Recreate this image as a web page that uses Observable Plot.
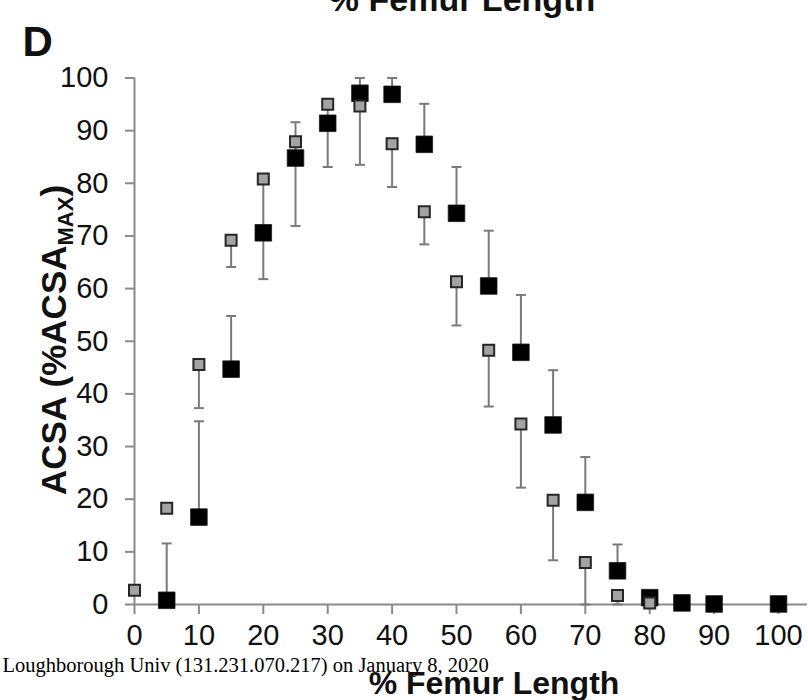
<!DOCTYPE html>
<html>
<head>
<meta charset="utf-8">
<script src="https://cdn.jsdelivr.net/npm/d3@7"></script>
<script src="https://cdn.jsdelivr.net/npm/@observablehq/plot@0.6"></script>
<style>
  body { margin: 0; background: #fff; }
  #chart svg { display: block; }
</style>
</head>
<body>
<div id="chart"></div>
<script>
// Axis ticks
const xTicks = [0, 10, 20, 30, 40, 50, 60, 70, 80, 90, 100];
const yTicks = [0, 10, 20, 30, 40, 50, 60, 70, 80, 90, 100];

// Grey series: position along femur (%), mean ACSA (%max), lower end of error bar
const grayX    = [0, 5, 10, 15, 20, 25, 30, 35, 40, 45, 50, 55, 60, 65, 70, 75, 80];
const grayMean = [2.7, 18.3, 45.6, 69.2, 80.8, 87.9, 95.0, 94.7, 87.5, 74.6, 61.3, 48.3, 34.3, 19.8, 8.0, 1.7, 0.3];
const grayLow  = [null, null, 37.3, 64.1, 61.8, 71.9, 83.1, 83.5, 79.3, 68.4, 53.0, 37.6, 22.2, 8.4, 0, 0, null];

// Black series: position along femur (%), mean ACSA (%max), upper end of error bar
const blackX    = [5, 10, 15, 20, 25, 30, 35, 40, 45, 50, 55, 60, 65, 70, 75, 80, 85, 90, 100];
const blackMean = [0.8, 16.6, 44.7, 70.6, 84.8, 91.4, 97.1, 96.9, 87.4, 74.3, 60.5, 47.9, 34.1, 19.4, 6.4, 1.3, 0.3, 0.1, 0.1];
const blackHigh = [11.6, 34.8, 54.8, null, 91.6, null, 100, 100, 95.1, 83.1, 71.0, 58.8, 44.5, 28.0, 11.4, null, null, null, null];

const gray = grayX.map((x, i) => ({x, y: grayMean[i], e: grayLow[i]}));
const black = blackX.map((x, i) => ({x, y: blackMean[i], e: blackHigh[i]}));
const grayErr = gray.filter(d => d.e != null);
const blackErr = black.filter(d => d.e != null);

// Square whose side is 2r, and a horizontal cap of width 2r
const box = {draw(ctx, size) { const h = Math.sqrt(size / Math.PI); ctx.rect(-h, -h, 2 * h, 2 * h); }};
const cap = {draw(ctx, size) { const h = Math.sqrt(size / Math.PI); ctx.moveTo(-h, 0); ctx.lineTo(h, 0); }};

const axisGray = "#8a8a8a";
const errGray = "#7a7a7a";
const sans = "'Liberation Sans', Arial, Helvetica, sans-serif";

const chart = Plot.plot({
  width: 808,
  height: 700,
  marginLeft: 134,
  marginRight: 1,
  marginTop: 77.5,
  marginBottom: 96,
  style: {fontFamily: sans, background: "#fff", color: "#111", overflow: "visible"},
  x: {domain: [0, 104.5]},
  y: {domain: [0, 100]},
  marks: [
    Plot.axisX(xTicks, {tickSize: 10, tickPadding: 10, fontSize: 29, stroke: axisGray, strokeWidth: 2, fill: "#111", label: null}),
    Plot.axisY(yTicks, {tickSize: 9, tickPadding: 17, fontSize: 29, stroke: axisGray, strokeWidth: 2, fill: "#111", label: null}),
    Plot.ruleY([0], {stroke: axisGray, strokeWidth: 2}),
    Plot.ruleX([0], {y1: 0, y2: 100, stroke: axisGray, strokeWidth: 2}),

    // error bars
    Plot.ruleX(grayErr, {x: "x", y1: "y", y2: "e", stroke: errGray, strokeWidth: 2}),
    Plot.dot(grayErr, {x: "x", y: "e", symbol: cap, r: 5, fill: "none", stroke: errGray, strokeWidth: 2}),
    Plot.ruleX(blackErr, {x: "x", y1: "y", y2: "e", stroke: errGray, strokeWidth: 2}),
    Plot.dot(blackErr, {x: "x", y: "e", symbol: cap, r: 5, fill: "none", stroke: errGray, strokeWidth: 2}),

    // means
    Plot.dot(black, {x: "x", y: "y", symbol: box, r: 8.3, fill: "#000", stroke: "#1a1a1a", strokeWidth: 0.8}),
    Plot.dot(gray, {x: "x", y: "y", symbol: box, r: 5.5, fill: "#a3a3a3", stroke: "#262626", strokeWidth: 2}),

    // panel letter, title of the panel above, axis title, source line
    Plot.text(["D"], {text: d => d, frameAnchor: "top-left", dx: -112, dy: -22.5, textAnchor: "start", lineAnchor: "bottom", fontSize: 42, fontWeight: "bold", fill: "#111"}),
    Plot.text(["% Femur Length"], {text: d => d, frameAnchor: "top", dx: -9, dy: -67, lineAnchor: "bottom", fontSize: 34, fontWeight: "bold", fill: "#111"}),
    Plot.text(["% Femur Length"], {text: d => d, frameAnchor: "bottom", dx: 23, dy: 89, lineAnchor: "bottom", fontSize: 32, fontWeight: "bold", fill: "#111"}),
    Plot.text(["Loughborough Univ (131.231.070.217) on January 8, 2020"], {text: d => d, frameAnchor: "bottom-left", dx: -132, dy: 67, textAnchor: "start", lineAnchor: "bottom", fontSize: 20.5, fontFamily: "'Liberation Serif', 'Times New Roman', serif", fill: "#000"})
  ]
});

// y-axis title with subscript
const ylab = d3.select(chart).append("text")
  .attr("transform", "translate(66,340) rotate(-90)")
  .attr("text-anchor", "middle")
  .attr("font-family", sans)
  .attr("font-weight", "bold")
  .attr("font-size", 35)
  .attr("fill", "#111");
ylab.append("tspan").text("ACSA (%ACSA");
ylab.append("tspan").attr("font-size", 22).attr("dy", 7).text("MAX");
ylab.append("tspan").attr("dy", -7).text(")");

document.getElementById("chart").appendChild(chart);
</script>
</body>
</html>
